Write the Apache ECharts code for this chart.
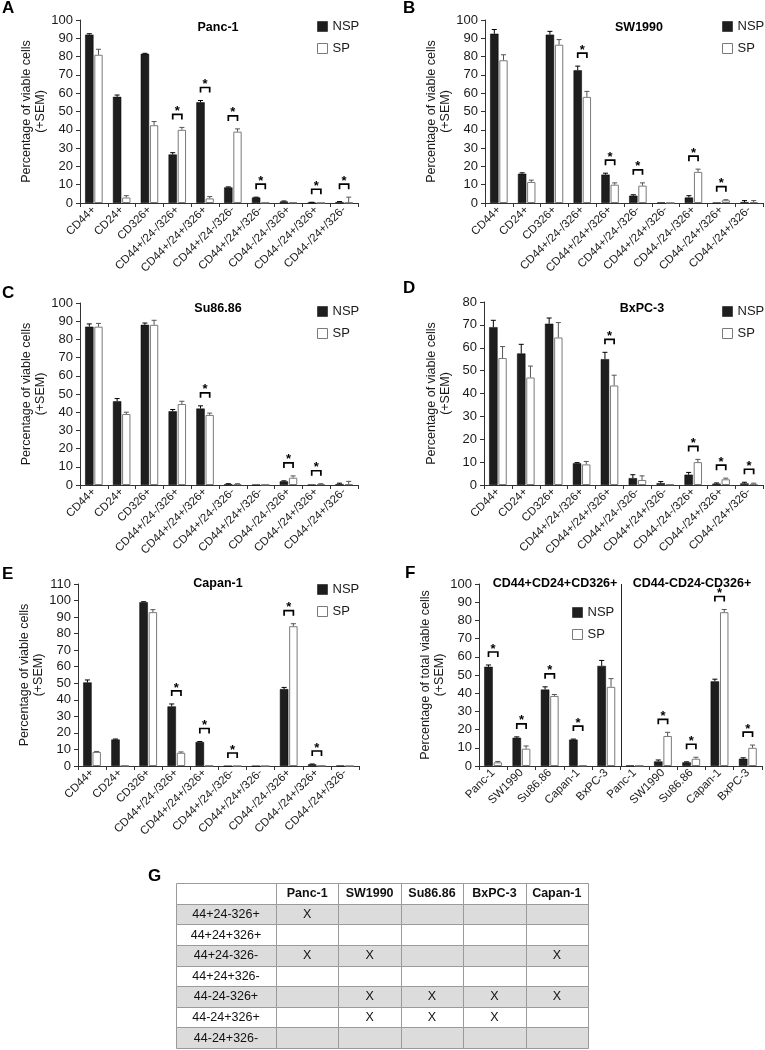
<!DOCTYPE html>
<html><head><meta charset="utf-8">
<script src="https://cdn.jsdelivr.net/npm/echarts@6/dist/echarts.min.js"></script>
<style>html,body{margin:0;padding:0;background:#fff}#c{width:765px;height:1050px}</style>
</head><body><div id="c"></div>
<script>
// ---------- DATA ----------
const categories = ['CD44+','CD24+','CD326+','CD44+/24-/326+','CD44+/24+/326+','CD44+/24-/326-','CD44+/24+/326-','CD44-/24-/326+','CD44-/24+/326+','CD44-/24+/326-'];

const pancNSP    = [92, 58, 81.5, 26.5, 55, 8.5, 3, 0.8, 0.3, 0.5];
const pancNSPErr = [0.5, 1, 0.3, 1, 1, 0.3, 0.2, 0.3, 0.1, 0.3];
const pancSP     = [81, 3, 42.5, 40, 2.5, 39, 0.2, 0.3, 0.1, 0.2];
const pancSPErr  = [3, 1, 2, 1.3, 1, 1.5, 0, 0, 0, 3];
const pancSig    = [0, 0, 0, 1, 1, 1, 1, 0, 1, 1];

const swNSP    = [92.5, 16, 92, 72.5, 15.5, 4, 0.3, 3, 0.2, 0.5];
const swNSPErr = [2.3, 0.5, 1.8, 2.3, 0.8, 0.5, 0, 1, 0, 0.8];
const swSP     = [78, 11.5, 86.5, 58, 10, 9.5, 0.1, 17, 1.5, 0.5];
const swSPErr  = [3, 1, 2.8, 3, 1, 1.5, 0, 1.5, 0.3, 0.8];
const swSig    = [0, 0, 0, 1, 1, 1, 0, 1, 1, 0];

const suNSP    = [87, 46, 88, 40.5, 42, 0.5, 0.2, 2, 0.2, 0.5];
const suNSPErr = [1.5, 1.5, 1, 1, 1.5, 0.2, 0, 0.3, 0, 0.5];
const suSP     = [87, 39, 88, 44.5, 38.5, 0.5, 0.2, 4, 0.5, 0.5];
const suSPErr  = [1.8, 1, 2.5, 1.5, 1, 0.2, 0, 1, 0.2, 1.5];
const suSig    = [0, 0, 0, 0, 1, 0, 0, 1, 1, 0];

const bxNSP    = [69, 57.5, 70.5, 9.5, 55, 3, 0.8, 4.5, 0.6, 0.7];
const bxNSPErr = [3, 4, 2.5, 0.3, 3, 1.5, 0.7, 1, 0.3, 0.5];
const bxSP     = [55.5, 47, 64.5, 9, 43.5, 2.2, 0.3, 10, 2.5, 0.5];
const bxSPErr  = [5, 5, 6.5, 1.3, 4.5, 1.8, 0, 1.2, 0.5, 0.3];
const bxSig    = [0, 0, 0, 0, 1, 0, 0, 1, 1, 1];

const capNSP    = [50.5, 16, 99, 36, 14.5, 0, 0, 46.5, 1, 0.3];
const capNSPErr = [1.5, 0.3, 0.3, 1.5, 0.3, 0, 0, 1, 0.2, 0];
const capSP     = [8.5, 0.2, 93, 8, 0.2, 0, 0, 84.5, 0.2, 0];
const capSPErr  = [0.3, 0, 1.5, 0.5, 0, 0, 0, 1.5, 0, 0];
const capSig    = [0, 0, 0, 1, 1, 1, 0, 1, 1, 0];

const fGroupNames = ['CD44+CD24+CD326+', 'CD44-CD24-CD326+'];
const fCellLines  = ['Panc-1', 'SW1990', 'Su86.86', 'Capan-1', 'BxPC-3'];
const fNSP    = [54.5, 15.5, 42, 14.5, 55, 0.3, 2.5, 2, 46.5, 4];
const fNSPErr = [1, 0.5, 1.5, 0.3, 3, 0, 0.8, 0.3, 1.2, 0.5];
const fSP     = [2, 9.5, 38.5, 0.3, 43.5, 0.2, 16.5, 4, 84.5, 10];
const fSPErr  = [0.5, 1.5, 0.8, 0, 4.5, 0, 2, 0.8, 1.5, 1.5];
const fSig    = [1, 1, 1, 1, 0, 0, 1, 1, 1, 1];

const seriesNames = ['NSP', 'SP'];

const tableCols  = ['Panc-1', 'SW1990', 'Su86.86', 'BxPC-3', 'Capan-1'];
const tableRows  = ['44+24-326+', '44+24+326+', '44+24-326-', '44+24+326-', '44-24-326+', '44-24+326+', '44-24+326-'];
const tableMarks = [
  [1, 0, 0, 0, 0],
  [0, 0, 0, 0, 0],
  [1, 1, 0, 0, 1],
  [0, 0, 0, 0, 0],
  [0, 1, 1, 1, 1],
  [0, 1, 1, 1, 0],
  [0, 0, 0, 0, 0]
];

// ---------- STYLE / LAYOUT ----------
const FONT = '"Liberation Sans", Arial, Helvetica, sans-serif';
const BAR_FRAC = 0.3, GAP_FRAC = 0.1;
const NSP_STYLE = {color: '#1e1e1e', borderColor: '#000', borderWidth: 0.5};
const SP_STYLE  = {color: '#ffffff', borderColor: '#7a7a7a', borderWidth: 1};
const Y_NAME = 'Percentage of viable cells\n(+SEM)';

const fCats = fCellLines.concat(fCellLines);

const panels = [
  {cats: categories, nsp: pancNSP, nspErr: pancNSPErr, sp: pancSP, spErr: pancSPErr, sig: pancSig, max: 100, yName: Y_NAME,
   grid: {left: 80, top: 20, width: 278, height: 183}, legend: {left: 317, top: 20}},
  {cats: categories, nsp: swNSP, nspErr: swNSPErr, sp: swSP, spErr: swSPErr, sig: swSig, max: 100, yName: Y_NAME,
   grid: {left: 485, top: 20, width: 278, height: 183}, legend: {left: 722, top: 20}},
  {cats: categories, nsp: suNSP, nspErr: suNSPErr, sp: suSP, spErr: suSPErr, sig: suSig, max: 100, yName: Y_NAME,
   grid: {left: 80, top: 303, width: 278, height: 182}, legend: {left: 317, top: 305}},
  {cats: categories, nsp: bxNSP, nspErr: bxNSPErr, sp: bxSP, spErr: bxSPErr, sig: bxSig, max: 80, yName: Y_NAME,
   grid: {left: 484, top: 302, width: 279, height: 183}, legend: {left: 722, top: 305}},
  {cats: categories, nsp: capNSP, nspErr: capNSPErr, sp: capSP, spErr: capSPErr, sig: capSig, max: 110, yName: Y_NAME,
   grid: {left: 78, top: 584, width: 281, height: 182}, legend: {left: 317, top: 583}},
  {cats: fCats, nsp: fNSP, nspErr: fNSPErr, sp: fSP, spErr: fSPErr, sig: fSig, max: 100, yName: 'Percentage of total viable cells\n(+SEM)',
   grid: {left: 479, top: 584, width: 283, height: 182}, legend: {left: 572, top: 606}}
];

function errRender(params, api) {
  const i = api.value(0);
  const nsp = api.value(1), ne = api.value(2), sp = api.value(3), se = api.value(4), sig = api.value(5);
  const band = api.size([1, 0])[0];
  const bw = band * BAR_FRAC, off = bw * (1 + GAP_FRAC) / 2;
  const cx = api.coord([i, 0])[0];
  const xN = cx - off, xS = cx + off;
  const yN = api.coord([i, nsp])[1], yNe = api.coord([i, nsp + ne])[1];
  const yS = api.coord([i, sp])[1], ySe = api.coord([i, sp + se])[1];
  const cap = bw * 0.3;
  const ch = [];
  const ln = (x1, y1, x2, y2, c, w) => ({type: 'line', shape: {x1, y1, x2, y2}, style: {stroke: c, lineWidth: w || 1}});
  if (ne > 0) { ch.push(ln(xN, yN, xN, yNe, '#000')); ch.push(ln(xN - cap, yNe, xN + cap, yNe, '#000')); }
  if (se > 0) { ch.push(ln(xS, yS, xS, ySe, '#555')); ch.push(ln(xS - cap, ySe, xS + cap, ySe, '#555')); }
  if (sig) {
    const top = Math.min(yNe, ySe) - 13;
    ch.push({type: 'polyline', shape: {points: [[xN, top + 5], [xN, top], [xS, top], [xS, top + 5]]},
             style: {stroke: '#000', lineWidth: 1.7, fill: null}});
    ch.push({type: 'text', x: (xN + xS) / 2, y: top - 3,
             style: {text: '*', fill: '#000', font: 'bold 13px ' + FONT, align: 'center', verticalAlign: 'middle', textAlign: 'center', textVerticalAlign: 'middle'}});
  }
  return {type: 'group', children: ch};
}

const grid = [], xAxis = [], yAxis = [], series = [], legend = [];
panels.forEach((p, k) => {
  grid.push(Object.assign({containLabel: false}, p.grid));
  xAxis.push({gridIndex: k, type: 'category', data: p.cats, boundaryGap: true,
    axisLine: {show: true, lineStyle: {color: '#333', width: 1}},
    axisTick: {show: true, interval: 0, length: 4, lineStyle: {color: '#333'}},
    axisLabel: {interval: 0, rotate: 45, fontSize: 11.5, margin: 5, color: '#1a1a1a', fontFamily: FONT},
    splitLine: {show: false}});
  yAxis.push({gridIndex: k, type: 'value', min: 0, max: p.max, interval: 10,
    axisLine: {show: true, lineStyle: {color: '#333', width: 1}},
    axisTick: {show: true, length: 4, lineStyle: {color: '#333'}},
    axisLabel: {fontSize: 13, margin: 7, color: '#1a1a1a', fontFamily: FONT},
    splitLine: {show: false},
    name: p.yName, nameLocation: 'middle', nameRotate: 90, nameGap: 31,
    nameTextStyle: {fontSize: 12.5, lineHeight: 14, color: '#1a1a1a', fontFamily: FONT}});
  series.push({type: 'bar', name: seriesNames[0], xAxisIndex: k, yAxisIndex: k, data: p.nsp,
    barWidth: (BAR_FRAC * 100) + '%', barGap: (GAP_FRAC * 100) + '%', itemStyle: NSP_STYLE});
  series.push({type: 'bar', name: seriesNames[1], xAxisIndex: k, yAxisIndex: k, data: p.sp,
    barWidth: (BAR_FRAC * 100) + '%', barGap: (GAP_FRAC * 100) + '%', itemStyle: SP_STYLE});
  series.push({type: 'custom', xAxisIndex: k, yAxisIndex: k, z: 5, silent: true,
    data: p.cats.map((c, i) => [i, p.nsp[i], p.nspErr[i], p.sp[i], p.spErr[i], p.sig[i]]),
    encode: {x: 0, y: 1}, renderItem: errRender});
  legend.push({left: p.legend.left, top: p.legend.top, orient: 'vertical', padding: 0, itemGap: 9,
    itemWidth: 10, itemHeight: 10, icon: 'rect', selectedMode: false,
    textStyle: {fontSize: 13, color: '#1a1a1a', fontFamily: FONT},
    data: [{name: seriesNames[0], itemStyle: NSP_STYLE}, {name: seriesNames[1], itemStyle: SP_STYLE}]});
});

// divider in panel F
const fIdx = 5;
series.push({type: 'custom', xAxisIndex: fIdx, yAxisIndex: fIdx, z: 4, silent: true,
  data: [[fCellLines.length - 1, panels[fIdx].max]], encode: {x: 0, y: 1},
  renderItem: (params, api) => {
    const band = api.size([1, 0])[0];
    const p0 = api.coord([api.value(0), 0]);
    const p1 = api.coord([api.value(0), api.value(1)]);
    const x = Math.round(p0[0] + band / 2) + 0.5;
    return {type: 'line', shape: {x1: x, y1: p1[1], x2: x, y2: p0[1]}, style: {stroke: '#222', lineWidth: 1}};
  }});

// ---------- TABLE G ----------
const rowsAll = [''].concat(tableRows);
const labelCells = rowsAll.map((t, r) => ({col: 0, row: r, text: t, shaded: r > 0 && r % 2 === 1, bold: false}));
const valueCells = [];
rowsAll.forEach((t, r) => tableCols.forEach((c, ci) => valueCells.push({
  col: ci, row: r, text: r === 0 ? c : (tableMarks[r - 1][ci] ? 'X' : ''), shaded: r > 0 && r % 2 === 1, bold: r === 0})));

function cellRender(cells) {
  return function (params, api) {
    const cell = cells[params.dataIndex];
    const c = api.coord([api.value(0), api.value(1)]);
    const s = api.size([1, 1]);
    const x0 = Math.round(c[0] - s[0] / 2), x1 = Math.round(c[0] + s[0] / 2);
    const y0 = Math.round(c[1] - s[1] / 2), y1 = Math.round(c[1] + s[1] / 2);
    return {type: 'group', children: [
      {type: 'rect', shape: {x: x0 + 0.5, y: y0 + 0.5, width: x1 - x0, height: y1 - y0},
       style: {fill: cell.shaded ? '#dcdcdc' : '#ffffff', stroke: '#9a9a9a', lineWidth: 1}},
      {type: 'text', x: c[0], y: c[1] + 0.5,
       style: {text: cell.text, font: (cell.bold ? 'bold ' : '') + '12.5px ' + FONT, fill: '#111',
               align: 'center', verticalAlign: 'middle', textAlign: 'center', textVerticalAlign: 'middle'}}
    ]};
  };
}
const gL = grid.length;
grid.push({left: 176, top: 883, width: 100, height: 165});
grid.push({left: 276, top: 883, width: 312, height: 165});
xAxis.push({gridIndex: gL, type: 'category', data: ['label'], show: false});
xAxis.push({gridIndex: gL + 1, type: 'category', data: tableCols, show: false});
yAxis.push({gridIndex: gL, type: 'category', data: rowsAll.map((r, i) => 'r' + i), inverse: true, show: false});
yAxis.push({gridIndex: gL + 1, type: 'category', data: rowsAll.map((r, i) => 'r' + i), inverse: true, show: false});
series.push({type: 'custom', xAxisIndex: gL, yAxisIndex: gL, silent: true,
  data: labelCells.map(c => [c.col, c.row]), encode: {x: 0, y: 1}, renderItem: cellRender(labelCells)});
series.push({type: 'custom', xAxisIndex: gL + 1, yAxisIndex: gL + 1, silent: true,
  data: valueCells.map(c => [c.col, c.row]), encode: {x: 0, y: 1}, renderItem: cellRender(valueCells)});

// ---------- FREE TEXT ----------
function txt(text, x, y, size, bold, align) {
  return {type: 'text', x, y, silent: true,
    style: {text, font: (bold ? 'bold ' : '') + size + 'px ' + FONT, fill: '#000',
            align: align || 'center', verticalAlign: 'middle', textAlign: align || 'center', textVerticalAlign: 'middle'}};
}
const graphic = [
  txt('A', 2, 8.5, 17, true, 'left'),
  txt('B', 403, 8.5, 17, true, 'left'),
  txt('C', 2, 293, 17, true, 'left'),
  txt('D', 403, 288, 17, true, 'left'),
  txt('E', 2, 574, 17, true, 'left'),
  txt('F', 405, 573, 17, true, 'left'),
  txt('G', 148, 876, 17, true, 'left'),
  txt('Panc-1', 218, 27.5, 12.5, true),
  txt('SW1990', 639, 27.5, 12.5, true),
  txt('Su86.86', 218, 309, 12.5, true),
  txt('BxPC-3', 642, 309, 12.5, true),
  txt('Capan-1', 218, 584, 12.5, true),
  txt(fGroupNames[0], 555, 584, 12.5, true),
  txt(fGroupNames[1], 692, 584, 12.5, true)
];

const chart = echarts.init(document.getElementById('c'), null, {renderer: 'canvas'});
chart.setOption({
  animation: false,
  backgroundColor: '#ffffff',
  textStyle: {fontFamily: FONT},
  grid, xAxis, yAxis, series, legend, graphic
});
</script>
</body></html>
